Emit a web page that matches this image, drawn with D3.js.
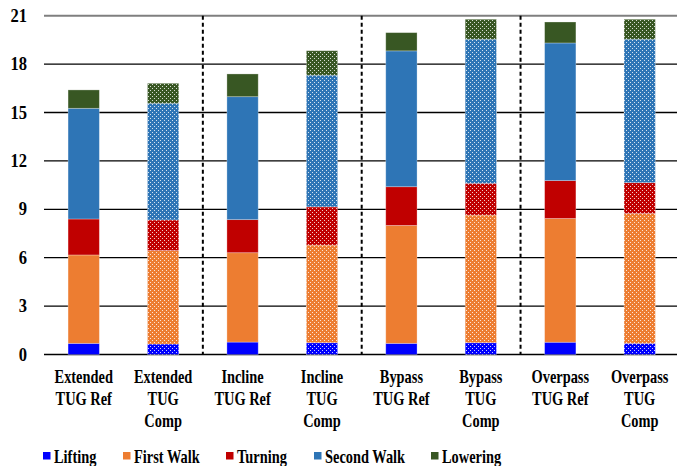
<!DOCTYPE html>
<html><head><meta charset="utf-8">
<script src="https://cdn.jsdelivr.net/npm/d3@7"></script>
<style>
html,body{margin:0;padding:0;background:#fff;}
svg{display:block;}
text{font-family:"Liberation Serif","Times New Roman",serif;font-weight:bold;fill:#000;}
</style></head>
<body>
<script>
const categories = [
  ["Extended","TUG Ref"],["Extended","TUG","Comp"],
  ["Incline","TUG Ref"],["Incline","TUG","Comp"],
  ["Bypass","TUG Ref"],["Bypass","TUG","Comp"],
  ["Overpass","TUG Ref"],["Overpass","TUG","Comp"]
];
const isComp = [false,true,false,true,false,true,false,true];
const seriesNames = ["Lifting","First Walk","Turning","Second Walk","Lowering"];
const seriesColors = ["#0000FF","#ED7D31","#C00000","#2E75B6","#385723"];
const lifting    = [0.69,0.65,0.77,0.73,0.69,0.73,0.76,0.69];
const firstWalk  = [5.48,5.79,5.54,6.05,7.31,7.91,7.67,8.05];
const turning    = [2.23,1.90,2.05,2.37,2.40,1.97,2.35,1.91];
const secondWalk = [6.86,7.23,7.62,8.16,8.42,8.93,8.53,8.89];
const lowering   = [1.14,1.24,1.41,1.52,1.13,1.24,1.30,1.24];
const yTicks = [0,3,6,9,12,15,18,21];

const W=677,H=466;
const svg=d3.select("body").append("svg").attr("width",W).attr("height",H);
const defs=svg.append("defs");
const pat=defs.append("pattern").attr("id","dots").attr("patternUnits","userSpaceOnUse")
  .attr("width",4).attr("height",4);
pat.append("rect").attr("x",0).attr("y",0).attr("width",1).attr("height",1).attr("fill","#fff").attr("opacity",0.8);
pat.append("rect").attr("x",2).attr("y",2).attr("width",1).attr("height",1).attr("fill","#fff").attr("opacity",0.8);

const keys=d3.range(categories.length);
const x=d3.scaleBand().domain(keys).range([44,679.4]).paddingInner(0.606).paddingOuter(0.303);
const y=d3.scaleLinear().domain([0,21]).range([354.5,15.7]);

// gridlines
svg.append("g").selectAll("line").data(yTicks).join("line")
  .attr("x1",44).attr("x2",W).attr("y1",d=>y(d)).attr("y2",d=>y(d))
  .attr("stroke",d=>d===21?"#7f7f7f":"#000").attr("stroke-width",d=>d===21?2:1.3);

// y labels
svg.append("g").selectAll("text").data(yTicks).join("text")
  .attr("transform",d=>`translate(27,${y(d)+6}) scale(0.92,1)`).attr("text-anchor","end")
  .style("font-size","18px").text(d=>d);

// stacked data
const rows=keys.map(i=>({i,s0:lifting[i],s1:firstWalk[i],s2:turning[i],s3:secondWalk[i],s4:lowering[i]}));
const stack=d3.stack().keys(["s0","s1","s2","s3","s4"])(rows);
const gBars=svg.append("g");
stack.forEach((layer,li)=>{
  layer.forEach(d=>{
    const i=d.data.i;
    gBars.append("rect").attr("x",x(i)).attr("width",x.bandwidth())
      .attr("y",y(d[1])).attr("height",y(d[0])-y(d[1]))
      .attr("fill",seriesColors[li]).attr("stroke","#fff").attr("stroke-opacity",0.35).attr("stroke-width",0.8);
    if(isComp[i]){
      gBars.append("rect").attr("x",x(i)).attr("width",x.bandwidth())
        .attr("y",y(d[1])).attr("height",y(d[0])-y(d[1]))
        .attr("fill","url(#dots)");
    }
  });
});

// separators
[2,4,6].forEach(i=>{
  const sx=(x(i-1)+x(i))/2+x.bandwidth()/2;
  svg.append("line").attr("x1",sx).attr("x2",sx).attr("y1",y(21)).attr("y2",y(0))
    .attr("stroke","#000").attr("stroke-width",2).attr("stroke-dasharray","4,3");
});

// x labels
const gx=svg.append("g");
categories.forEach((lines,i)=>{
  const cx=x(i)+x.bandwidth()/2;
  lines.forEach((t,k)=>{
    gx.append("text").attr("transform",`translate(${cx},${383+k*21.8}) scale(0.8,1)`)
      .attr("text-anchor","middle").style("font-size","18px").text(t);
  });
});

// legend
const legX=[43,123,226,314,431];
const lg=svg.append("g");
seriesNames.forEach((n,i)=>{
  lg.append("rect").attr("x",legX[i]).attr("y",452).attr("width",7.5).attr("height",7.5).attr("fill",seriesColors[i]);
  lg.append("text").attr("transform",`translate(${legX[i]+11},${462.5}) scale(0.8,1)`)
    .style("font-size","18px").text(n);
});
</script>
</body></html>
